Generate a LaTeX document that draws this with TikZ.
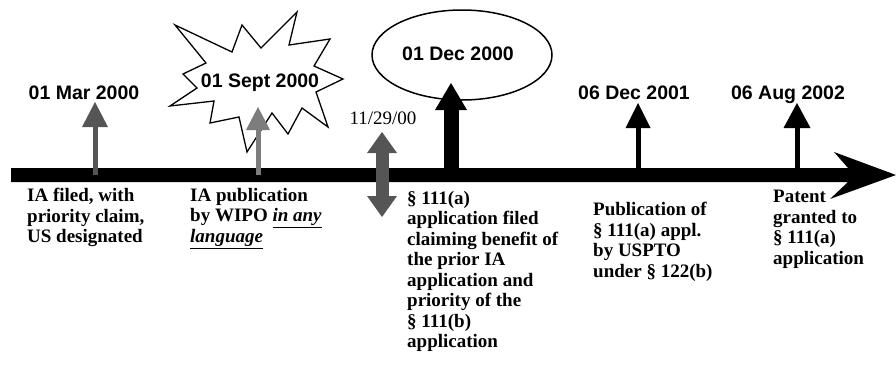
\documentclass[tikz,border=0pt]{standalone}
\usepackage{fontspec}
\setmainfont{Liberation Serif}
\setsansfont{Liberation Sans}
\usepackage{tikz}
\usetikzlibrary{arrows.meta, positioning, shapes.geometric}
\definecolor{stipplegray}{RGB}{85, 85, 85}
\definecolor{lightstipple}{RGB}{125, 125, 125}

\begin{document}
\begin{tikzpicture}[x=1pt, y=-1pt,
    datelabel/.style={font=\sffamily\bfseries\fontsize{19.5}{21}\selectfont,
                inner sep=0pt, anchor=base},
    eventtext/.style={font=\bfseries\fontsize{19}{20.5}\selectfont, align=left,
                anchor=north west, inner sep=0pt},
    pointer/.style={line width=5pt,
                -{Triangle[width=26pt, length=25pt, line width=0pt]}},
    bubble/.style={ellipse, draw, line width=1.5pt, fill=white,
                minimum width=180pt, minimum height=90pt, inner sep=0pt}
]
    \useasboundingbox (0,0) rectangle (896,370);

    % time line with its big head
    \fill (11,168) -- (848,168) -- (834,152) -- (896,175) -- (830,199)
        -- (848,182) -- (11,182) -- cycle;

    \coordinate (mar) at (95,175);      \coordinate (mar tip) at (95,102);
    \coordinate (sept) at (258,175);    \coordinate (sept tip) at (258,107);
    \coordinate (nov up) at (382,132);  \coordinate (nov down) at (382,217);
    \coordinate (dec) at (451,175);     \coordinate (dec tip) at (451,83);
    \coordinate (pub) at (638,175);     \coordinate (pub tip) at (638,103);
    \coordinate (grant) at (797,175);   \coordinate (grant tip) at (797,103);

    % burst round the WIPO date
    \draw[line width=1.3pt, fill=white] (175,25) -- (232,52) -- (242,25)
        -- (261,48) -- (297,12) -- (289,45) -- (330,39) -- (314,66)
        -- (343,79) -- (316,92) -- (328,127) -- (302,108) -- (288,134)
        -- (272,113) -- (247,152) -- (239,117) -- (210,123) -- (214,101)
        -- (170,106) -- (197,88) -- (183,74) -- (206,63) -- cycle;

    \node[bubble] (dec2000) at (462,55) {};

    % pointers up from the time line
    \draw[pointer, stipplegray] (mar) -- (mar tip);
    \draw[pointer, lightstipple,
        -{Triangle[width=24pt, length=23pt, line width=0pt]}] (sept) -- (sept tip);
    \draw[line width=13pt, stipplegray,
        {Triangle[width=30pt, length=21pt, line width=0pt]}-{Triangle[width=30pt, length=21pt, line width=0pt]}]
        (nov down) -- (nov up);
    \draw[line width=15pt,
        -{Triangle[width=32pt, length=27pt, line width=0pt]}] (dec) -- (dec tip);
    \draw[pointer, -{Triangle[width=25pt, length=25pt, line width=0pt]}] (pub) -- (pub tip);
    \draw[pointer, -{Triangle[width=27pt, length=25pt, line width=0pt]}] (grant) -- (grant tip);

    % dates
    \node[datelabel] (mar date) at (84,99) {01 Mar 2000};
    \node[datelabel] (sept date) at (260,87) {01 Sept 2000};
    \node[datelabel] (dec date) at (458,60) {01 Dec 2000};
    \node[datelabel] (pub date) at (634,99) {06 Dec 2001};
    \node[datelabel] (grant date) at (788,99) {06 Aug 2002};
    \node[font=\fontsize{19}{21}\selectfont, inner sep=0pt, anchor=base]
        (nov date) at (383,124) {11/29/00};

    % events
    \node[eventtext] (filed) at (27,188) {IA filed, with\\priority claim,\\US designated};
    \node[eventtext] (wipo) at (190,188)
        {IA publication\\by WIPO \textit{\underline{in any}}\\\textit{\underline{language}}};
    \node[eventtext] (claim) at (407,191) {§ 111(a)\\application filed\\claiming benefit of\\the prior IA\\application and\\priority of the\\§ 111(b)\\application};
    \node[eventtext] (uspto) at (593,202) {Publication of\\§ 111(a) appl.\\by USPTO\\under § 122(b)};
    \node[eventtext] (patent) at (773,190) {Patent\\granted to\\§ 111(a)\\application};
\end{tikzpicture}
\end{document}
